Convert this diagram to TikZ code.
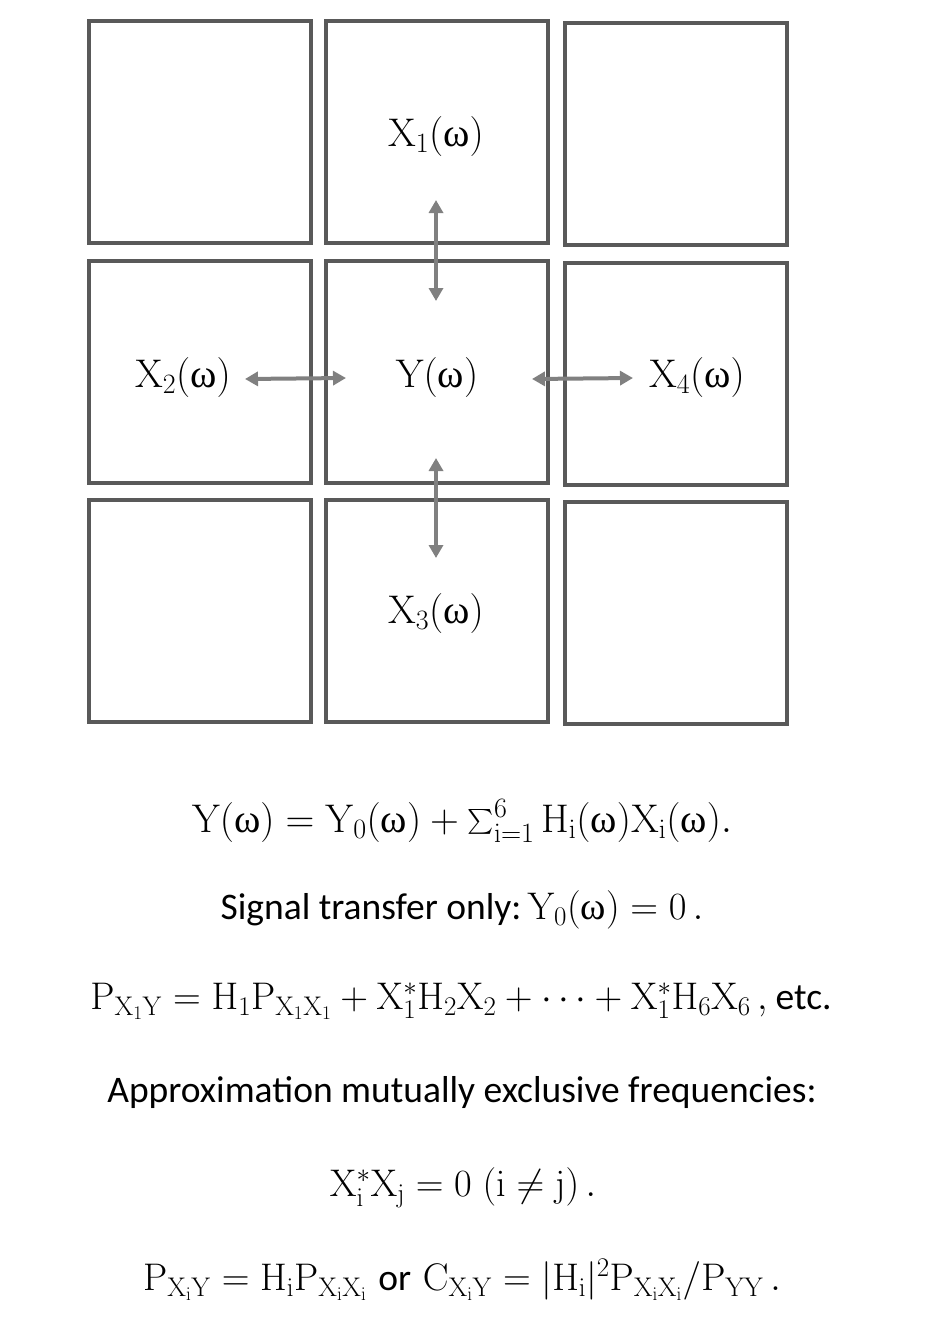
\documentclass[tikz,border=0pt]{standalone}
\usepackage{fix-cm}
\usepackage{amsmath}
\usepackage[no-math]{fontspec}
\newfontfamily\calib{Carlito}
\newfontfamily\grk{Liberation Serif}
\newcommand{\uom}{\mathord{\text{\grk ω}}}
\usetikzlibrary{arrows.meta}
\definecolor{boxgray}{HTML}{595959}
\definecolor{arrgray}{HTML}{808080}
\begin{document}
\begin{tikzpicture}[x=1pt,y=-1pt,
  cell/.style={draw=boxgray,line width=4pt,minimum width=222pt,minimum height=222pt,inner sep=0pt},
  lab/.style={font=\fontsize{40}{48}\selectfont,inner sep=0pt},
  eqn/.style={font=\fontsize{38.5}{46}\selectfont,inner sep=0pt},
  ctext/.style={font=\fontsize{37.5}{45}\selectfont\calib,inner sep=0pt},
  conn/.style={draw=arrgray,line width=4pt,{Triangle[length=13pt,width=14pt]}-{Triangle[length=13pt,width=14pt]}}]
\useasboundingbox (0,0) rectangle (925,1323);
% grid of cells
\node[cell] (c11) at (200,132) {};
\node[cell] (c12) at (437,131.5) {};
\node[cell] (c13) at (675.5,134) {};
\node[cell] (c21) at (200,371.5) {};
\node[cell] (c22) at (437,371.5) {};
\node[cell] (c23) at (675.5,374) {};
\node[cell] (c31) at (200,610.5) {};
\node[cell] (c32) at (437,610.5) {};
\node[cell] (c33) at (675.5,612.5) {};
% labels
\node[lab] (x1) at (436,136) {$\mathrm{X_1}(\uom)$};
\node[lab] (x2) at (183,377) {$\mathrm{X_2}(\uom)$};
\node[lab] (y) at (437,377) {$\mathrm{Y}(\uom)$};
\node[lab] (x4) at (697,377) {$\mathrm{X_4}(\uom)$};
\node[lab] (x3) at (436,613) {$\mathrm{X_3}(\uom)$};
% arrow ends
\coordinate (t1) at (436,200); \coordinate (t2) at (436,301);
\coordinate (l1) at (245,379); \coordinate (l2) at (346,378);
\coordinate (r1) at (532,379); \coordinate (r2) at (633,378);
\coordinate (b1) at (436,458); \coordinate (b2) at (436,558);
\draw[conn] (t1) -- (t2);
\draw[conn] (l1) -- (l2);
\draw[conn] (r1) -- (r2);
\draw[conn] (b1) -- (b2);
% equations
\node[eqn,font=\fontsize{40}{48}\selectfont] (e1) at (462,821) {$\mathrm{Y}(\uom)=\mathrm{Y_0}(\uom)+\textstyle\sum_{\mathrm{i}=1}^{6}\mathrm{H_i}(\uom)\mathrm{X_i}(\uom).$};
\node[eqn] (e2) at (462,910) {{\fontsize{37.5}{45}\selectfont\calib Signal transfer only:}\hspace{6pt}$\mathrm{Y_0}(\uom)=0\,.$};
\node[eqn] (e3) at (461,1001) {$\mathrm{P_{X_1Y}}=\mathrm{H_1P_{X_1X_1}}+\mathrm{X_1^*H_2X_2}+\cdots+\mathrm{X_1^*H_6X_6}\,,$\hspace{8pt}{\fontsize{37.5}{45}\selectfont\calib etc.}};
\node[ctext] (e4) at (462,1092) {Approximation mutually exclusive frequencies:};
\node[eqn] (e5) at (463,1188) {$\mathrm{X_i^*X_j}=0\;(\mathrm{i}\neq\mathrm{j})\,.$};
\node[eqn] (e6) at (462,1280) {$\mathrm{P_{X_iY}}=\mathrm{H_iP_{X_iX_i}}$\ {\fontsize{37.5}{45}\selectfont\calib or}\ $\mathrm{C_{X_iY}}=|\mathrm{H_i}|^2\mathrm{P_{X_iX_i}}/\mathrm{P_{YY}}\,.$};
\end{tikzpicture}
\end{document}
